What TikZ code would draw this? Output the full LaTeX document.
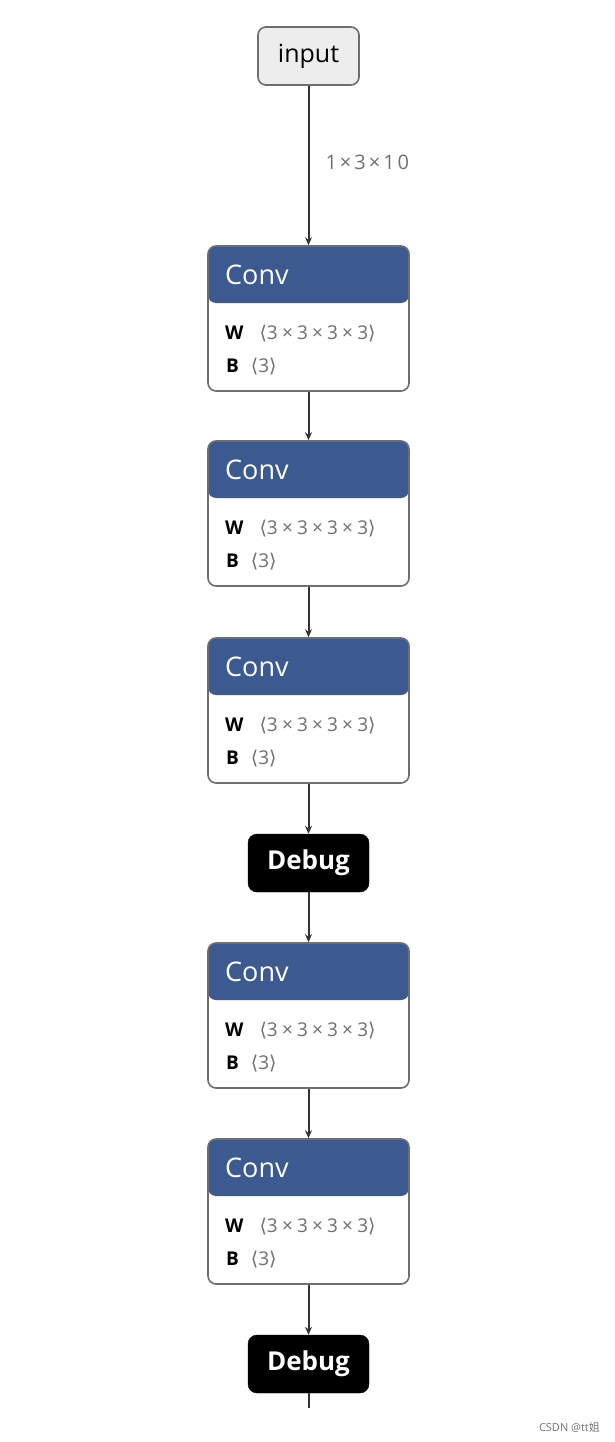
\documentclass[tikz,border=0pt]{standalone}
\usepackage{fontspec}
\setmainfont{Open Sans}
\newfontfamily\dv{DejaVu Sans}
\newfontfamily\spaced[LetterSpace=15]{Open Sans}
\newfontfamily\spacedw[LetterSpace=22]{Open Sans}
\newfontfamily\spaceddv[LetterSpace=15]{DejaVu Sans}
\newfontfamily\cjk{Noto Sans CJK SC}
\usetikzlibrary{arrows.meta}
\definecolor{convblue}{HTML}{3C5A8F}
\definecolor{edgegray}{HTML}{333333}
\definecolor{boxborder}{HTML}{6E6E6E}
\definecolor{dimgray}{HTML}{707070}
\tikzset{
  convbox/.style={draw=boxborder, line width=1.6pt, rounded corners=8pt, fill=white,
    minimum width=201pt, minimum height=145pt, inner sep=0pt,
    path picture={\fill[convblue] (path picture bounding box.north west) rectangle ([yshift=-57pt]path picture bounding box.north east);}},
  convtitle/.style={anchor=west, inner sep=0pt, text=white, font=\fontsize{27}{27}\selectfont},
  attr/.style={anchor=west, inner sep=0pt, font=\fontsize{19}{19}\selectfont},
  inbox/.style={draw=boxborder, line width=1.6pt, rounded corners=8pt, fill=black!7,
    minimum width=101pt, minimum height=58pt, inner sep=0pt, font=\fontsize{25}{25}\selectfont},
  dbgbox/.style={draw=black, fill=black, rounded corners=9pt, minimum width=121pt, minimum height=58pt,
    inner sep=0pt, text=white, font=\fontsize{26}{26}\selectfont\bfseries},
  edge/.style={draw=edgegray, line width=2pt, -{Stealth[length=8pt,width=7pt]}},
  dimlabel/.style={anchor=west, inner sep=0pt, text=dimgray, font=\fontsize{20}{20}\spaced}
}
\newcommand{\lbr}{{\spaceddv ⟨}}
\newcommand{\rbr}{{\spaceddv ⟩}}
\begin{document}
\begin{tikzpicture}[x=1pt,y=-1pt]
\useasboundingbox (0,0) rectangle (614,1442);
\node[inbox] (in) at (308.5,56) {input};
\foreach \i/\t in {1/246,2/441,3/638,4/943,5/1139}{
  \node[convbox] (c\i) at (308.5,\t+72.5) {};
  \node[convtitle] (c\i t) at (225,\t+29) {Conv};
  \node[attr] (c\i w) at (225,\t+88) {\textbf{W}\hspace{16pt}{\color{dimgray}\spacedw\lbr 3×3×3×3\rbr}};
  \node[attr] (c\i b) at (226,\t+121) {\textbf{B}\hspace{12pt}{\color{dimgray}\spaced\lbr 3\rbr}};
}
\node[dbgbox] (d1) at (308.5,863) {Debug};
\node[dbgbox] (d2) at (308.5,1364) {Debug};
\coordinate (end) at (308.5,1408);
\draw[edge] (in.south) -- node[dimlabel, pos=0.48, xshift=16pt] (lab) {1×3×10} (c1.north);
\draw[edge] (c1.south) -- (c2.north);
\draw[edge] (c2.south) -- (c3.north);
\draw[edge] (c3.south) -- (d1.north);
\draw[edge] (d1.south) -- (c4.north);
\draw[edge] (c4.south) -- (c5.north);
\draw[edge] (c5.south) -- (d2.north);
\draw[draw=edgegray, line width=2pt] (d2.south) -- (end);
\node[anchor=east, inner sep=0pt, text=black!55, font=\fontsize{11}{11}\selectfont] (wm) at (600,1427) {CSDN @tt{\cjk 姐}};
\end{tikzpicture}
\end{document}
